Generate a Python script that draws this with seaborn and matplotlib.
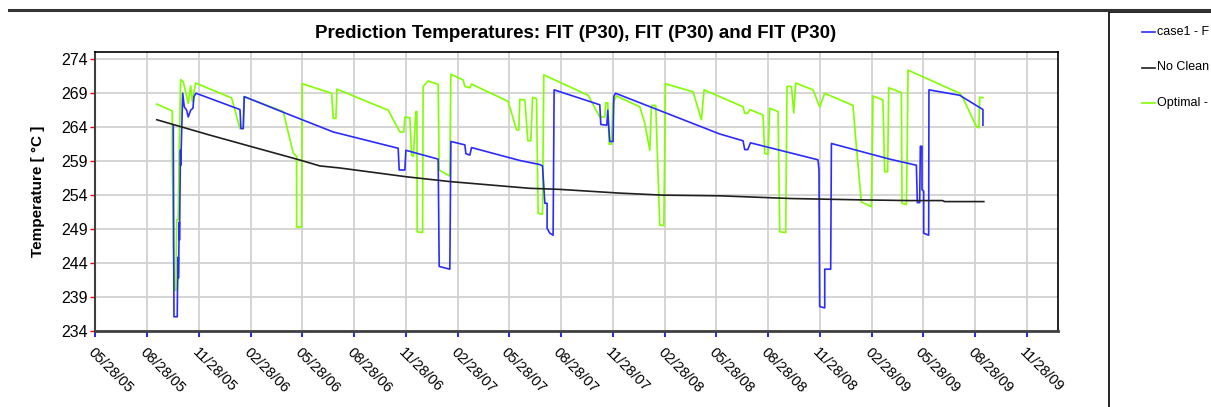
import matplotlib
matplotlib.use("Agg")
import matplotlib.pyplot as plt
import matplotlib.transforms as mtransforms
from matplotlib.lines import Line2D
from matplotlib.patches import Rectangle
import pandas as pd
import seaborn as sns

start = pd.Timestamp("2005-05-28")

# x values: days since 05/28/05
case1_days = [138.2, 139.4, 145.2, 145.6, 147.0, 147.3, 148.8, 149.1, 150.9, 151.4, 154.8, 157.6,
              161.8, 164.6, 168.9, 172.9, 174.7, 178.2, 255.9, 257.6, 261.7, 263.5, 332.3, 420.5,
              535.2, 537.0, 547.0, 548.8, 605.8, 607.6, 626.4, 628.2, 652.9, 654.7, 661.7, 664.7,
              750.0, 785.2, 790.0, 794.1, 798.1, 798.1, 802.9, 808.7, 810.5, 891.1, 892.9, 903.5,
              905.2, 907.0, 908.8, 914.6, 915.8, 918.8, 1102.9, 1144.0, 1147.0, 1152.3, 1157.1,
              1276.3, 1278.1, 1279.3, 1288.2, 1288.2, 1298.7, 1300.0, 1402.9, 1450.0, 1451.7,
              1455.8, 1457.0, 1459.9, 1459.9, 1462.9, 1462.9, 1471.7, 1472.2, 1526.4, 1567.5, 1567.5]
case1_temp = [264.3, 236.1, 236.1, 239.8, 244.9, 241.8, 250.0, 247.4, 260.6, 258.4, 269.0, 267.0,
              266.5, 265.5, 266.5, 266.8, 268.5, 269.0, 266.6, 263.8, 263.8, 268.5, 266.2, 263.3,
              260.9, 257.7, 257.7, 260.6, 259.3, 243.5, 243.1, 261.9, 261.4, 260.1, 259.9, 261.0,
              259.1, 258.5, 258.3, 252.8, 252.8, 249.1, 248.4, 248.1, 269.5, 267.3, 264.4, 264.3,
              266.5, 264.0, 261.9, 261.9, 268.5, 269.0, 263.0, 262.0, 260.7, 260.7, 261.7,
              259.2, 257.7, 237.6, 237.4, 243.1, 243.1, 261.6, 259.3, 258.4, 252.9,
              252.9, 261.2, 261.2, 254.8, 254.6, 248.4, 248.1, 269.5, 268.7, 266.6, 264.3]

noclean_days = [109, 200, 273.5, 356, 397, 432, 550, 626, 768, 820, 926, 1002, 1103, 1229,
                1353, 1438, 1496, 1500, 1569]
noclean_temp = [265.1, 262.9, 261.2, 259.3, 258.3, 258.0, 256.7, 256.0, 255.0, 254.85, 254.3,
                254.0, 253.9, 253.5, 253.3, 253.2, 253.2, 253.05, 253.05]

optimal_days = [108.9, 136.4, 136.4, 138.2, 139.9, 142.9, 144.2, 147.0, 148.2, 151.2, 155.8, 164.6,
                168.9, 171.7, 177.7, 241.2, 255.9, 261.7, 262.9, 332.3, 349.9, 355.9, 355.9, 364.7,
                365.8, 417.7, 420.5, 425.3, 427.0, 517.6, 538.2, 545.3, 547.0, 555.8, 558.9, 562.0,
                566.4, 568.2, 568.7, 578.3, 579.3, 588.1, 605.8, 607.6, 626.4, 628.2, 649.9, 652.9,
                661.7, 664.7, 729.3, 744.1, 748.2, 750.0, 758.8, 764.1, 769.4, 772.4, 779.4, 782.3,
                790.0, 791.1, 792.3, 870.5, 891.1, 900.0, 901.7, 905.2, 907.6, 911.8, 914.1, 920.6,
                961.7, 970.5, 979.4, 982.4, 989.9, 997.0, 1004.1, 1007.1, 1055.8, 1070.6, 1075.2,
                1144.0, 1147.0, 1152.3, 1155.8, 1179.3, 1182.3, 1188.1, 1191.1, 1205.8, 1208.8,
                1219.3, 1221.6, 1229.4, 1233.5, 1237.0, 1267.5, 1279.3, 1288.2, 1338.1, 1344.1,
                1352.9, 1370.6, 1373.4, 1391.0, 1394.0, 1399.3, 1401.1, 1423.5, 1424.6, 1432.3,
                1434.1, 1435.2, 1526.4, 1532.2, 1555.9, 1560.4, 1561.7, 1567.5]
optimal_temp = [267.4, 266.4, 259.9, 246.6, 240.0, 240.0, 250.4, 250.4, 259.5, 271.0, 270.7, 267.5,
                270.1, 267.8, 270.5, 268.3, 263.8, 263.8, 268.5, 266.3, 260.2, 259.7, 249.3, 249.3,
                270.4, 269.0, 265.3, 265.3, 269.6, 266.5, 263.3, 263.3, 265.5, 265.4, 259.9, 259.7,
                266.3, 266.3, 248.6, 248.5, 270.0, 270.8, 270.3, 257.7, 256.8, 271.8, 270.95, 270.0,
                269.8, 270.35, 267.8, 263.6, 263.6, 268.1, 268.0, 262.0, 262.0, 268.4, 268.2, 251.3,
                251.2, 261.3, 271.7, 268.7, 265.5, 265.5, 267.6, 267.6, 261.5, 261.5, 267.5, 268.6,
                267.0, 264.6, 260.6, 267.2, 267.2, 249.6, 249.5, 270.4, 269.2, 265.1, 269.5,
                267.0, 266.05, 266.05, 266.6, 265.8, 260.15, 260.0, 266.8, 266.3, 248.6,
                248.5, 270.0, 270.0, 266.1, 270.5, 269.5, 267.0, 269.0, 267.2, 261.1,
                253.0, 252.3, 268.6, 268.0, 257.45, 257.45, 269.8, 269.1, 252.8, 252.6,
                262.4, 272.4, 269.0, 268.3, 264.1, 263.9, 268.4, 268.35]

series_names = ["case1", "No Cleaning", "Optimal"]
series_colors = ["#2b2bff", "#202020", "#80ff00"]
# the legend panel is cut off by the window edge in the original
legend_labels = ["case1 - F", "No Clean", "Optimal -"]

xtick_labels = ["05/28/05", "08/28/05", "11/28/05", "02/28/06", "05/28/06", "08/28/06", "11/28/06",
                "02/28/07", "05/28/07", "08/28/07", "11/28/07", "02/28/08", "05/28/08", "08/28/08",
                "11/28/08", "02/28/09", "05/28/09", "08/28/09", "11/28/09"]
yticks = [234, 239, 244, 249, 254, 259, 264, 269, 274]

frames = []
for name, days, temp in zip(series_names,
                            [case1_days, noclean_days, optimal_days],
                            [case1_temp, noclean_temp, optimal_temp]):
    frames.append(pd.DataFrame({
        "date": start + pd.to_timedelta(days, unit="D"),
        "temp": temp,
        "series": name,
    }))
df = pd.concat(frames, ignore_index=True)

plt.rcParams["font.family"] = ["Liberation Sans", "DejaVu Sans"]

fig = plt.figure(figsize=(12.11, 4.07), dpi=100)
ax = fig.add_axes([95 / 1211, 1 - 331 / 407, (1058 - 95) / 1211, (331 - 52) / 407])

palette = dict(zip(series_names, series_colors))
sns.lineplot(data=df, x="date", y="temp", hue="series", palette=palette,
             hue_order=[series_names[2], series_names[0], series_names[1]],
             sort=False, estimator=None, linewidth=1.2, legend=False, ax=ax)

tick_dates = pd.to_datetime(xtick_labels, format="%m/%d/%y")
ax.set_xticks(tick_dates)
ax.set_xticklabels(xtick_labels, rotation=-45, ha="left", va="top",
                   rotation_mode="anchor", fontsize=10.5)
offset = mtransforms.ScaledTranslation(-6 / 72, 0, fig.dpi_scale_trans)
for lab in ax.get_xticklabels():
    lab.set_transform(lab.get_transform() + offset)
ax.set_xlim(start, start + pd.Timedelta(days=1700))

ax.set_yticks(yticks)
ax.set_ylim(234, 275.07)
ax.tick_params(axis="y", colors="#ff0000", labelcolor="black", length=3.5, width=1,
               pad=1.5, labelsize=11.5)
ax.tick_params(axis="x", colors="#0000ff", labelcolor="black", length=4, width=1.2, pad=6)

ax.grid(True, color="#d2d2d2", linewidth=1.3)
ax.set_axisbelow(True)
for side in ["top", "right"]:
    ax.spines[side].set_color("black")
    ax.spines[side].set_linewidth(1.2)
ax.spines["left"].set_color("#404040")
ax.spines["left"].set_linewidth(1.5)
ax.spines["bottom"].set_color("#404040")
ax.spines["bottom"].set_linewidth(2)

ax.set_xlabel("")
ax.set_ylabel("Temperature [ °C ]", fontsize=11, fontweight="bold")
ax.yaxis.set_label_coords(-0.052, 0.5)

fig.text(576 / 1211, 1 - 33 / 407, "Prediction Temperatures: FIT (P30), FIT (P30) and FIT (P30)",
         ha="center", va="center", fontsize=13.5, fontweight="bold")

# dark rule across the top of the window
fig.add_artist(Line2D([9 / 1211, 1], [1 - 9.5 / 407, 1 - 9.5 / 407],
                      transform=fig.transFigure, color="#333333", linewidth=2.2))

# legend panel on the right
fig.add_artist(Rectangle((1109 / 1211, -0.01), 0.2, 1 - 12 / 407 + 0.01,
                         transform=fig.transFigure, facecolor="white",
                         edgecolor="black", linewidth=1.2))
for i, (label, color) in enumerate(zip(legend_labels, series_colors)):
    yy = 1 - (32 + 35.5 * i) / 407
    fig.add_artist(Line2D([1142 / 1211, 1155 / 1211], [yy, yy],
                          transform=fig.transFigure, color=color, linewidth=1.2))
    fig.text(1157 / 1211, yy, label, ha="left", va="center", fontsize=9)

fig.savefig("out.png", dpi=100)
